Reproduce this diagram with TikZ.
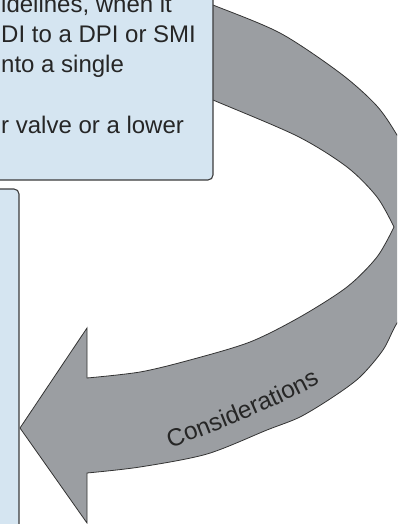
\documentclass[tikz,border=0pt]{standalone}
\usepackage{fontspec}
\setmainfont{Liberation Sans}
\usetikzlibrary{decorations.text}
\definecolor{boxblue}{HTML}{D5E5F1}
\definecolor{arrowgray}{HTML}{9B9EA2}
\definecolor{edgegray}{HTML}{3C3C3C}
\definecolor{inkgray}{HTML}{262626}

\begin{document}
\begin{tikzpicture}[x=1pt, y=-1pt,
  infobox/.style={draw=edgegray, line width=1.1pt, fill=boxblue, rounded corners=5pt},
  boxtext/.style={anchor=base west, inner sep=0pt, text=inkgray, font=\fontsize{24}{30}\selectfont},
  bandedge/.style={draw=black!80, line width=0.8pt, fill=arrowgray}]
  \clip (0,0) rectangle (397,524);

  % ===== Curved arrow =====
  \filldraw[bandedge]
    plot[smooth] coordinates {(190,-4) (213,5) (280,33) (340,73) (376,105) (397,135) (425,185) (437,230) (425,280) (397,323) (383,350) (360,377) (333,397) (300,417) (267,430) (207,454) (140,467) (87,473)}
    -- (87,523) -- (20,428) -- (87,328) -- (87,378)
    -- plot[smooth] coordinates {(87,378) (140,372) (190,360) (250,342) (300,317) (347,287) (377,257) (394,227)}
    -- plot[smooth] coordinates {(394,227) (377,197) (347,167) (297,136) (213,100) (190,90)}
    -- cycle;

  % label along the band
  \path[decorate, decoration={text along path, text align=center, text color=inkgray,
      text={|\fontsize{24.5}{24.5}\selectfont|Considerations}}]
    (160,452) .. controls (220,430) and (275,408) .. (330,378);

  % ===== Text boxes =====
  \draw[infobox] (-30,-30) rectangle (213,180);
  \draw[infobox] (-30,189) rectangle (19,560);
  \foreach \y/\txt [count=\i] in {13/{idelines, when it}, 43/{DI to a DPI or SMI}, 73/{nto a single}, 133/{r valve or a lower}}
    \node[boxtext] (line\i) at (1,\y) {\txt};
\end{tikzpicture}
\end{document}
